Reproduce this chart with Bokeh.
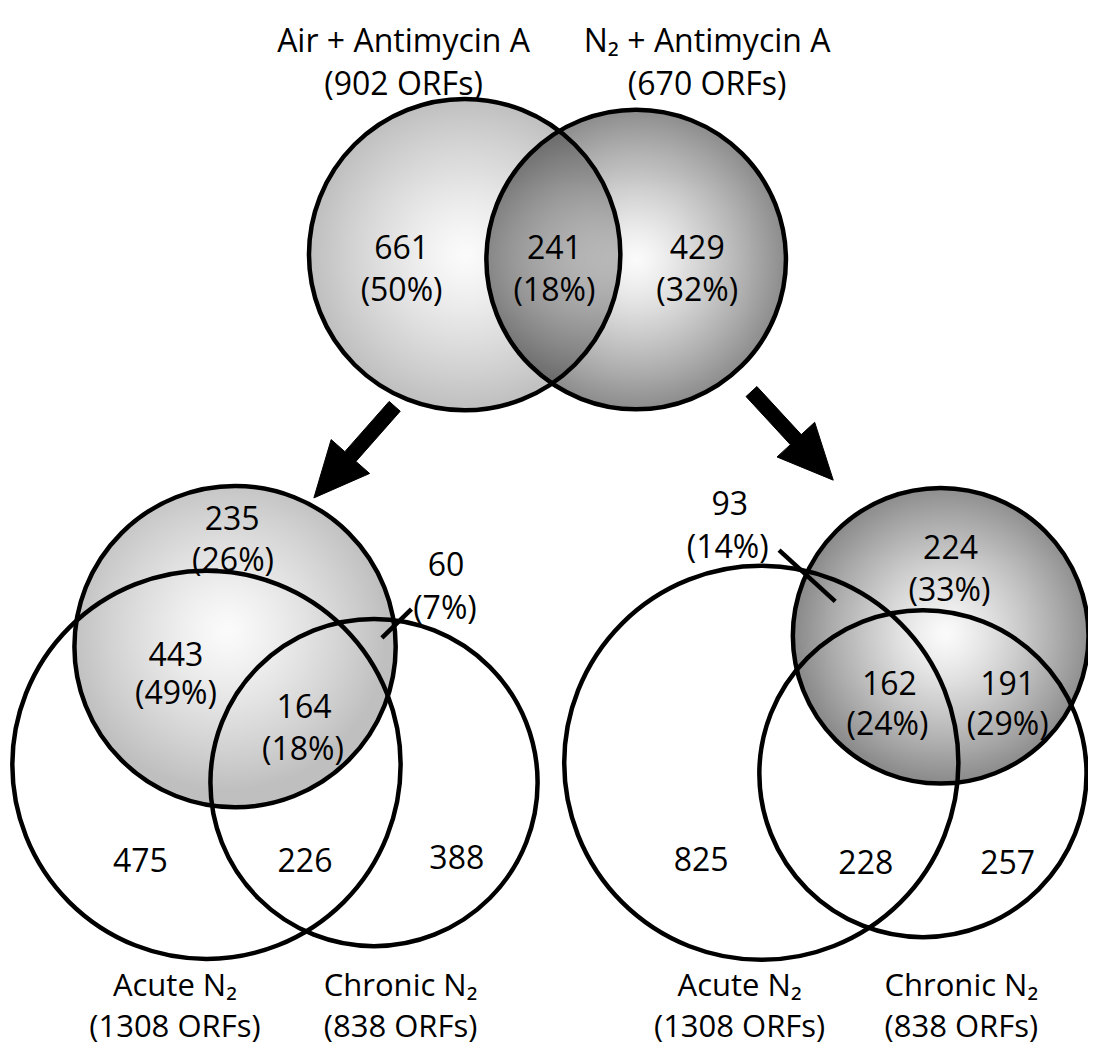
import numpy as np
from bokeh.plotting import figure
from bokeh.models import Range1d
from bokeh.core.properties import value
from bokeh.embed import file_html
from bokeh.resources import INLINE

# ---------------- data ----------------
top_sets = ["Air + Antimycin A", "N\u2082 + Antimycin A"]
top_totals = [902, 670]
top_counts = [661, 241, 429]
top_pcts = [50, 18, 32]

left_counts = [235, 60, 443, 164, 475, 226, 388]
left_pcts = [26, 7, 49, 18]

right_counts = [93, 224, 162, 191, 825, 228, 257]
right_pcts = [14, 33, 24, 29]

bottom_sets = ["Acute N\u2082", "Chronic N\u2082"]
bottom_totals = [1308, 838]

# ---------------- layout (reference pixel coords) ----------------
W, H = 1104, 1063
top_circles = [(471, 258, 158), (645, 263, 152)]
left_circles = [(238, 656, 163), (209, 776, 197), (379, 794, 166)]
right_circles = [(954, 645, 150), (772, 774, 200), (936, 785, 166)]

top_title_pos = [(409, 40), (717, 40)]
top_total_y = 83
top_count_pos = [(407, 250), (562, 250), (707, 250)]
top_pct_y = 292
left_count_pos = [(235, 525), (452, 572), (178, 663), (308, 716), (142, 873), (309, 873), (463, 870)]
left_pct_pos = [(236, 567), (451, 615), (178, 702), (307, 758)]
right_count_pos = [(740, 510), (964, 555), (902, 693), (1022, 693), (711, 872), (878, 875), (1022, 875)]
right_pct_pos = [(738, 553), (963, 597), (900, 733), (1022, 733)]
bottom_x = [[177, 406], [750, 975]]
bottom_name_y = 999
bottom_total_y = 1040

arrows = [((400, 412), (318, 505)), ((762, 397), (845, 487))]
leaders = [((417, 618), (387, 647)), ((790, 558), (847, 610))]

LIGHT_EDGE = 0.75
DARK_EDGE = 0.55

FONT = value("Open Sans")
FS = "32px"
BFS = "31px"
LW = 4.5


def Y(y):
    return H - y


p = figure(width=1088, height=1047, x_range=Range1d(0, W), y_range=Range1d(0, H),
           output_backend="svg", toolbar_location=None, min_border=0)
p.axis.visible = False
p.grid.visible = False
p.outline_line_color = None
p.background_fill_color = "white"
p.border_fill_color = "white"


def shade(x0, y0, x1, y1, specs):
    xs = np.arange(x0, x1) + 0.5
    ys = np.arange(y0, y1) + 0.5
    XX, YY = np.meshgrid(xs, ys)
    val = np.ones_like(XX)
    inside_any = np.zeros(XX.shape, dtype=bool)
    for (cx, cy, r, edge, hx, hy) in specs:
        inside = (XX - cx) ** 2 + (YY - cy) ** 2 <= r * r
        t = np.clip(np.sqrt((XX - hx) ** 2 + (YY - hy) ** 2) / r, 0, 1)
        g = 0.985 - (0.985 - edge) * t ** 1.25
        val = np.where(inside, val * g, val)
        inside_any |= inside
    gray = (np.clip(val, 0, 1) * 255).astype(np.uint8)
    h, w = XX.shape
    img = np.zeros((h, w), dtype=np.uint32)
    v = img.view(dtype=np.uint8).reshape((h, w, 4))
    v[..., 0] = gray
    v[..., 1] = gray
    v[..., 2] = gray
    v[..., 3] = np.where(inside_any, 255, 0).astype(np.uint8)
    img = np.flipud(img)
    p.image_rgba(image=[img], x=x0, y=Y(y1), dw=x1 - x0, dh=y1 - y0)


(c1x, c1y, r1), (c2x, c2y, r2) = top_circles
shade(c1x - r1 - 2, min(c1y - r1, c2y - r2) - 2, c2x + r2 + 2, max(c1y + r1, c2y + r2) + 2,
      [(c1x, c1y, r1, LIGHT_EDGE, c1x, c1y), (c2x, c2y, r2, DARK_EDGE, c2x, c2y)])
sx, sy, sr = left_circles[0]
shade(sx - sr - 2, sy - sr - 2, sx + sr + 2, sy + sr + 2, [(sx, sy, sr, LIGHT_EDGE, sx - 8, sy - 16)])
sx, sy, sr = right_circles[0]
shade(sx - sr - 2, sy - sr - 2, min(W, sx + sr + 2), sy + sr + 2, [(sx, sy, sr, DARK_EDGE, sx + 4, sy - 2)])

allc = top_circles + left_circles + right_circles
p.circle(x=[c[0] for c in allc], y=[Y(c[1]) for c in allc], radius=[c[2] for c in allc],
         fill_color=None, line_color="black", line_width=LW)


def arrow_poly(tail, tip, sw=15, hl=56, hw=26):
    tail = np.array(tail, float)
    tip = np.array(tip, float)
    u = (tip - tail) / np.linalg.norm(tip - tail)
    n = np.array([-u[1], u[0]])
    base = tip - hl * u
    pts = [tail + sw / 2 * n, base + sw / 2 * n, base + hw * n, tip,
           base - hw * n, base - sw / 2 * n, tail - sw / 2 * n]
    return [q[0] for q in pts], [Y(q[1]) for q in pts]


axs, ays = [], []
for tail, tip in arrows:
    a, b = arrow_poly(tail, tip)
    axs.append(a)
    ays.append(b)
p.patches(axs, ays, fill_color="black", line_color="black", line_width=1)

p.segment(x0=[l[0][0] for l in leaders], y0=[Y(l[0][1]) for l in leaders],
          x1=[l[1][0] for l in leaders], y1=[Y(l[1][1]) for l in leaders],
          line_color="black", line_width=LW)


def txt(xs, ys, texts, size=FS):
    p.text(x=xs, y=[Y(v) for v in ys], text=texts, text_font=FONT, text_font_size=size,
           text_align="center", text_baseline="alphabetic", text_color="black")


# top titles
txt([q[0] for q in top_title_pos], [q[1] for q in top_title_pos], top_sets)
txt([q[0] for q in top_title_pos], [top_total_y] * 2, ["(%d ORFs)" % t for t in top_totals])
# top counts
txt([q[0] for q in top_count_pos], [q[1] for q in top_count_pos], [str(c) for c in top_counts])
txt([q[0] for q in top_count_pos], [top_pct_y] * 3, ["(%d%%)" % v for v in top_pcts])
# bottom-left
txt([q[0] for q in left_count_pos], [q[1] for q in left_count_pos], [str(c) for c in left_counts])
txt([q[0] for q in left_pct_pos], [q[1] for q in left_pct_pos], ["(%d%%)" % v for v in left_pcts])
# bottom-right
txt([q[0] for q in right_count_pos], [q[1] for q in right_count_pos], [str(c) for c in right_counts])
txt([q[0] for q in right_pct_pos], [q[1] for q in right_pct_pos], ["(%d%%)" % v for v in right_pcts])
# bottom set labels
bx = bottom_x[0] + bottom_x[1]
txt(bx, [bottom_name_y] * 4, bottom_sets * 2, size=BFS)
txt(bx, [bottom_total_y] * 4, ["(%d ORFs)" % t for t in bottom_totals] * 2, size=BFS)

open("out.html", "w").write(file_html(p, INLINE))
